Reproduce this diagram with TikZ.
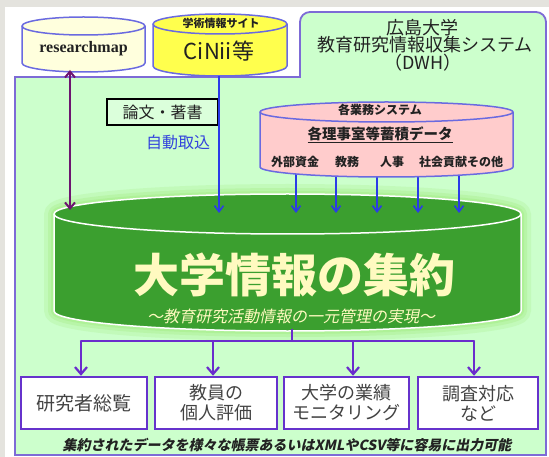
\documentclass[tikz,border=0pt]{standalone}
\usepackage{fontspec}
\setmainfont{Liberation Serif}
\newfontfamily\jp{Noto Sans CJK JP}
\newfontfamily\jpsl[FakeSlant=0.2]{Noto Sans CJK JP}
\usetikzlibrary{arrows.meta}
\definecolor{bggray}{HTML}{E4E3DE}
\definecolor{regfill}{HTML}{CCFFCC}
\definecolor{regline}{HTML}{7D6BD6}
\definecolor{cylline}{HTML}{6A6AE0}
\definecolor{rmfill}{HTML}{FFFFDD}
\definecolor{cifill}{HTML}{FFFF4D}
\definecolor{pkfill}{HTML}{FFCCCC}
\definecolor{gfill}{HTML}{3B9F2F}
\definecolor{glowc}{HTML}{A6EE88}
\definecolor{cream}{HTML}{FFFAC0}
\definecolor{blueA}{HTML}{2B3BE8}
\definecolor{purpA}{HTML}{6A2CCC}
\definecolor{plum}{HTML}{6D1570}
\definecolor{boxline}{HTML}{6633CC}
\definecolor{txt}{HTML}{222222}
\definecolor{autoblue}{HTML}{3344DD}
\newcommand\mycyl[6]{%
  \path[#6] (#1,-#3) -- (#1,-#4) arc[start angle=180,end angle=360,x radius={(#2-#1)/2*1pt},y radius=#5pt] -- (#2,-#3) arc[start angle=0,end angle=180,x radius={(#2-#1)/2*1pt},y radius=#5pt] -- cycle;
  \path[#6,fill=none] (#1,-#3) arc[start angle=180,end angle=360,x radius={(#2-#1)/2*1pt},y radius=#5pt];}
\newcommand\myglow[7]{%
  \draw[glowc,line width=#6pt,opacity=#7,line join=round] (#1,-#3) -- (#1,-#4) arc[start angle=180,end angle=360,x radius={(#2-#1)/2*1pt},y radius=#5pt] -- (#2,-#3) arc[start angle=0,end angle=180,x radius={(#2-#1)/2*1pt},y radius=#5pt] -- cycle;}
\begin{document}
\begin{tikzpicture}[x=1pt,y=1pt,
  jpt/.style={inner sep=0pt,text=txt},
  blarrow/.style={blueA,line width=1.6pt,-{Straight Barb[length=6pt,width=9pt]}},
  purline/.style={purpA,line width=2.2pt},
  purarrow/.style={purline,-{Straight Barb[length=7pt,width=12pt]}},
  outbox/.style={draw=boxline,line width=2.5pt,fill=white,minimum height=52pt,inner sep=0pt,align=center,text=txt!85,font=\jp\fontsize{18}{20}\selectfont}]
\useasboundingbox (0,0) rectangle (549,-457);
\fill[bggray] (0,0) rectangle (549,-457);
\fill[white] (5,-7) rectangle (549,-457);
% system region
\draw[draw=regline,line width=1.8pt,fill=regfill] (15,-455) -- (15,-77) -- (300,-77) -- (300,-22) arc[start angle=180,end angle=90,radius=10pt] -- (536,-12) arc[start angle=90,end angle=0,radius=10pt] -- (546,-455) -- cycle;
% green cylinder with glow
\myglow{54}{521}{214}{311}{20}{20}{0.25}
\myglow{54}{521}{214}{311}{20}{12}{0.35}
\myglow{54}{521}{214}{311}{20}{6}{0.5}
\mycyl{54}{521}{214}{311}{20}{draw=white,line width=1.5pt,fill=gfill}
% arrows from pink store
\foreach \i/\x in {1/296,2/336,3/377,4/418,5/459}{
  \coordinate (pkb\i) at (\x,-170);
  \coordinate (gtp\i) at (\x,-213);
  \draw[blarrow] (pkb\i) -- (gtp\i);
}
% source cylinders
\mycyl{22}{145}{26}{63}{9}{draw=cylline,line width=1.5pt,fill=rmfill}
\mycyl{153}{287}{24}{66}{10}{draw=cylline,line width=1.5pt,fill=cifill}
\mycyl{260}{513}{112}{167}{10}{draw=cylline,line width=1.5pt,fill=pkfill}
% paper box
\node[draw=black,line width=1.2pt,fill=regfill!70!white,minimum width=111pt,minimum height=26pt,inner sep=0pt,font=\jp\fontsize{16}{16}\selectfont,text=txt] (paper) at (162.5,-112) {論文・著書};
\node[jpt,font=\jp\fontsize{16}{16}\selectfont,text=autoblue] (auto) at (178,-142) {自動取込};
% connectors from sources
\coordinate (ciB) at (219,-76);
\coordinate (gT1) at (219,-213);
\draw[blarrow] (ciB) -- (gT1);
\coordinate (rmB) at (70,-70);
\coordinate (gT0) at (70,-210);
\draw[plum,line width=2pt,{Straight Barb[length=6pt,width=10pt]}-{Straight Barb[length=6pt,width=10pt]}] (rmB) -- (gT0);
% texts
\node[inner sep=0pt,font=\bfseries\fontsize{16}{16}\selectfont,text=txt] (rmt) at (83.5,-49) {researchmap};
\node[jpt,font=\jp\bfseries\fontsize{11}{11}\selectfont] (cit1) at (221,-23) {学術情報サイト};
\node[jpt,font=\jp\fontsize{22}{22}\selectfont] (cit2) at (219,-51) {CiNii等};
\node[jpt,font=\jp\fontsize{18}{18}\selectfont] (dwh1) at (422,-28) {広島大学};
\node[jpt,font=\jp\fontsize{18}{18}\selectfont] (dwh2) at (425,-45) {教育研究情報収集システム};
\node[jpt,font=\jp\fontsize{18}{18}\selectfont] (dwh3) at (423,-63) {（DWH）};
\node[jpt,font=\jp\bfseries\fontsize{12}{12}\selectfont] (pk1) at (380,-110) {各業務システム};
\node[jpt,font=\jp\bfseries\fontsize{14.5}{14.5}\selectfont] (pk2) at (380,-135) {\underline{各理事室等蓄積データ}};
\node[jpt,font=\jp\bfseries\fontsize{12}{12}\selectfont] (pk3) at (295,-162) {外部資金};
\node[jpt,font=\jp\bfseries\fontsize{12}{12}\selectfont] (pk4) at (347,-162) {教務};
\node[jpt,font=\jp\bfseries\fontsize{12}{12}\selectfont] (pk5) at (392,-162) {人事};
\node[jpt,font=\jp\bfseries\fontsize{12}{12}\selectfont] (pk6) at (461,-162) {社会貢献その他};
\node[inner sep=0pt,font=\jp\bfseries\fontsize{46}{46}\selectfont,text=cream] (big) at (294,-275) {大学情報の集約};
\node[inner sep=0pt,font=\jpsl\fontsize{16}{16}\selectfont,text=cream] (sub) at (291,-316) {～教育研究活動情報の一元管理の実現～};
% output boxes
\node[outbox,minimum width=126pt] (b1) at (84,-403) {\fontsize{19}{21}\selectfont 研究者総覧};
\node[outbox,minimum width=122pt] (b2) at (216,-403) {教員の\\個人評価};
\node[outbox,minimum width=125pt] (b3) at (346.5,-403) {大学の業績\\モニタリング};
\node[outbox,minimum width=120pt] (b4) at (478,-403) {調査対応\\など};
% distribution connectors
\coordinate (gBot) at (292,-329);
\coordinate (hub) at (292,-341);
\coordinate (h1) at (81,-341);
\coordinate (h2) at (213,-341);
\coordinate (h3) at (353,-341);
\coordinate (h4) at (474,-341);
\draw[purline] (gBot) -- (hub);
\draw[purline,line cap=round] (h1) -- (h4);
\draw[purarrow] (h1) -- (h1 |- b1.north);
\draw[purarrow] (h2) -- (h2 |- b2.north);
\draw[purarrow] (h3) -- (h3 |- b3.north);
\draw[purarrow] (h4) -- (h4 |- b4.north);
\node[inner sep=0pt,font=\jpsl\bfseries\fontsize{14}{14}\selectfont,text=txt] (note) at (287,-445) {集約されたデータを様々な帳票あるいはXMLやCSV等に容易に出力可能};
\end{tikzpicture}
\end{document}
